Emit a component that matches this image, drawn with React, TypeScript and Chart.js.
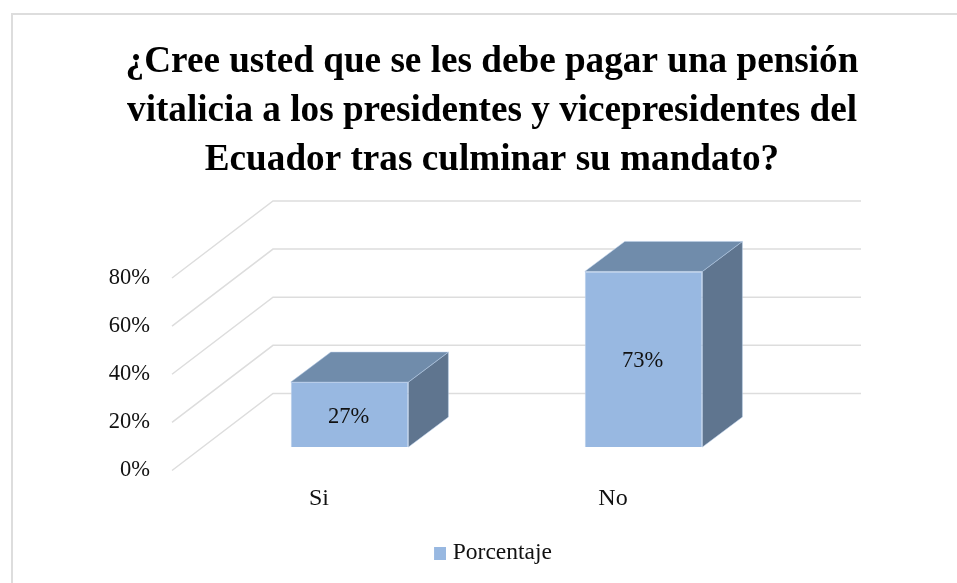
import React, { useEffect, useRef } from "react";
import { Chart, registerables } from "chart.js";

Chart.register(...registerables);

const categories = ["Si", "No"];
const seriesName = "Porcentaje";
const seriesValues = [27, 73];
const yTicks = [0, 20, 40, 60, 80];
const titleLines = [
  "¿Cree usted que se les debe pagar una pensión",
  "vitalicia a los presidentes y vicepresidentes del",
  "Ecuador tras culminar su mandato?",
];

const FONT = "'Liberation Serif', serif";
const FRONT = "#98B8E1";
const TOP = "#708CAB";
const SIDE = "#5F758F";
const EDGE = "#B7CCE9";
const GRID = "#DDDDDD";
const TEXT = "#111111";

// oblique projection of the 3D plot
const WALL_DX = 101;
const WALL_DY = 77;
const BAR_SHIFT_X = 30.6;
const BAR_SHIFT_Y = 23.4;
const BAR_DX = 40;
const BAR_DY = 30;

function legendSwatch() {
  const c = document.createElement("canvas");
  c.width = 19;
  c.height = 13;
  const g = c.getContext("2d")!;
  g.fillStyle = FRONT;
  g.fillRect(7, 0, 12, 13);
  return c;
}

const poly = (ctx: CanvasRenderingContext2D, pts: number[][], fill: string) => {
  ctx.beginPath();
  pts.forEach(([x, y], i) => (i ? ctx.lineTo(x, y) : ctx.moveTo(x, y)));
  ctx.closePath();
  ctx.fillStyle = fill;
  ctx.fill();
  ctx.strokeStyle = EDGE;
  ctx.lineWidth = 0.5;
  ctx.stroke();
};

const scene3d = {
  id: "scene3d",
  beforeDraw(chart: any) {
    const { ctx } = chart;
    ctx.save();
    ctx.strokeStyle = GRID;
    ctx.lineWidth = 2;
    ctx.beginPath();
    ctx.moveTo(12, chart.height + 5);
    ctx.lineTo(12, 14);
    ctx.lineTo(chart.width + 5, 14);
    ctx.stroke();
    ctx.restore();
  },
  beforeDatasetsDraw(chart: any) {
    const { ctx, chartArea, scales } = chart;
    ctx.save();
    ctx.strokeStyle = GRID;
    ctx.lineWidth = 1.5;
    yTicks.forEach((t) => {
      const y = scales.y.getPixelForValue(t);
      ctx.beginPath();
      ctx.moveTo(chartArea.left, y);
      ctx.lineTo(chartArea.left + WALL_DX, y - WALL_DY);
      ctx.lineTo(chartArea.right + WALL_DX, y - WALL_DY);
      ctx.stroke();
    });
    ctx.restore();

    ctx.save();
    ctx.translate(BAR_SHIFT_X, -BAR_SHIFT_Y);
    chart.getDatasetMeta(0).data.forEach((bar: any) => {
      const { x, y, base, width } = bar.getProps(["x", "y", "base", "width"], true);
      const l = x - width / 2;
      const r = x + width / 2;
      poly(ctx, [[r, y], [r + BAR_DX, y - BAR_DY], [r + BAR_DX, base - BAR_DY], [r, base]], SIDE);
      poly(ctx, [[l, y], [l + BAR_DX, y - BAR_DY], [r + BAR_DX, y - BAR_DY], [r, y]], TOP);
    });
    ctx.restore();

    ctx.save();
    ctx.translate(BAR_SHIFT_X, -BAR_SHIFT_Y);
  },
  afterDatasetsDraw(chart: any) {
    const { ctx } = chart;
    ctx.restore();
    ctx.save();
    ctx.translate(BAR_SHIFT_X, -BAR_SHIFT_Y);
    ctx.font = `22.5px ${FONT}`;
    ctx.fillStyle = TEXT;
    ctx.textAlign = "center";
    ctx.textBaseline = "middle";
    chart.getDatasetMeta(0).data.forEach((bar: any, i: number) => {
      const { x, y, base } = bar.getProps(["x", "y", "base"], true);
      ctx.fillText(`${seriesValues[i]}%`, x - 1, (y + base) / 2 + 2);
    });
    ctx.restore();
  },
};

export default function App() {
  const ref = useRef<HTMLCanvasElement>(null);
  useEffect(() => {
    const chart = new Chart(ref.current!, {
      type: "bar",
      data: {
        labels: categories,
        datasets: [
          {
            label: seriesName,
            data: seriesValues,
            backgroundColor: FRONT,
            borderColor: EDGE,
            borderWidth: 1,
            barPercentage: 0.4,
            categoryPercentage: 1,
          },
        ],
      },
      options: {
        responsive: false,
        animation: false,
        layout: { padding: { left: 40, right: 13, top: 38, bottom: 8 } },
        plugins: {
          tooltip: { enabled: false },
          title: {
            display: true,
            text: titleLines,
            color: "#000000",
            font: { family: FONT, size: 37.2, weight: "bold", lineHeight: 1.317 },
            padding: { top: 0, bottom: 93 },
          },
          legend: {
            position: "bottom",
            onClick: undefined,
            labels: {
              color: TEXT,
              font: { family: FONT, size: 23.5 },
              usePointStyle: true,
              pointStyle: legendSwatch(),
              pointStyleWidth: 9,
              padding: 8,
            },
          },
        },
        scales: {
          x: {
            grid: { display: false },
            border: { display: false },
            ticks: { color: TEXT, font: { family: FONT, size: 24 }, padding: 6 },
            afterFit: (s: any) => {
              s.height = 63;
            },
          },
          y: {
            min: 0,
            max: 80,
            grid: { display: false },
            border: { display: false },
            ticks: {
              stepSize: 20,
              color: TEXT,
              font: { family: FONT, size: 22.5 },
              padding: 14,
              callback: (v: any) => `${v}%`,
            },
            afterFit: (s: any) => {
              s.width = 132;
            },
          },
          pad: {
            position: "right",
            min: 0,
            max: 1,
            grid: { display: false },
            border: { display: false },
            ticks: { display: false },
            afterFit: (s: any) => {
              s.width = 184;
            },
          },
        },
      },
      plugins: [scene3d],
    } as any);
    return () => chart.destroy();
  }, []);
  return (
    <canvas
      ref={ref}
      width={957}
      height={583}
      style={{ position: "absolute", left: 0, top: 0, display: "block" }}
    />
  );
}
